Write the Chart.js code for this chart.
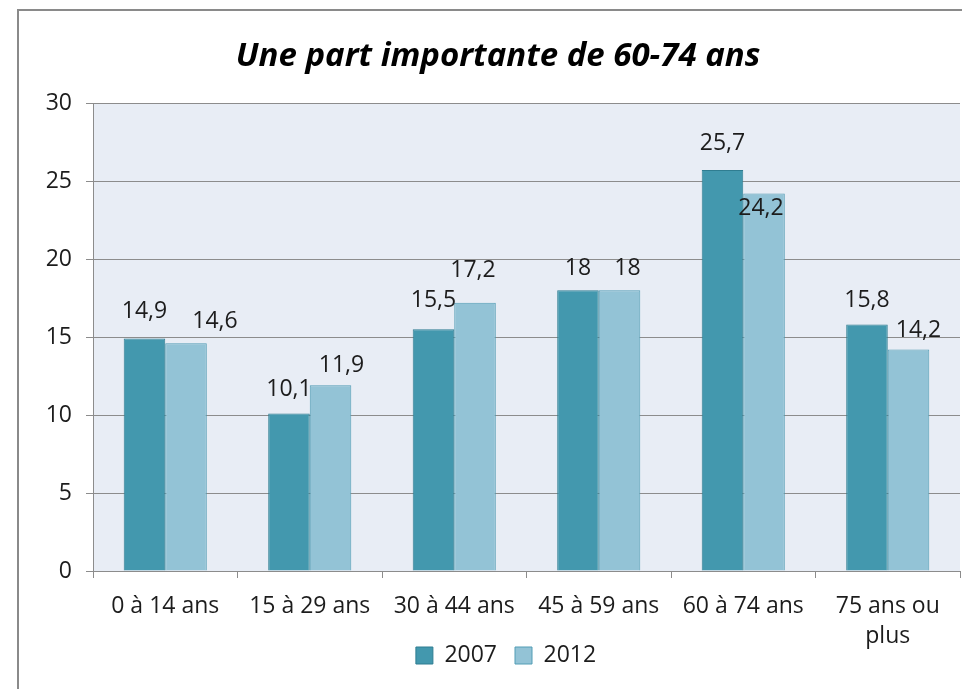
<!DOCTYPE html>
<html>
<head>
<meta charset="utf-8">
<script src="https://cdn.jsdelivr.net/npm/chart.js@4.4.1/dist/chart.umd.min.js"></script>
<style>
  html, body { margin: 0; padding: 0; background: #ffffff; overflow: hidden; }
  #wrap { position: relative; width: 962px; height: 689px; overflow: hidden; }
  #frame { position: absolute; left: 17px; top: 9px; width: 1000px; height: 740px;
           border: 2px solid #8a8a8a; box-sizing: border-box; }
  #c { position: absolute; left: 0; top: 0; }
</style>
</head>
<body>
<div id="wrap">
  <div id="frame"></div>
  <canvas id="c" width="962" height="689"></canvas>
</div>
<script>
// ---- data ----
const categories = ['0 à 14 ans', '15 à 29 ans', '30 à 44 ans', '45 à 59 ans', '60 à 74 ans', ['75 ans ou', 'plus']];
const seriesNames = ['2007', '2012'];
const values2007 = [14.9, 10.1, 15.5, 18, 25.7, 15.8];
const values2012 = [14.6, 11.9, 17.2, 18, 24.2, 14.2];
const yMin = 0, yMax = 30, yStep = 5;
const titleText = 'Une part importante de 60-74 ans';

// ---- styling ----
const FONT = "'Open Sans', 'DejaVu Sans', sans-serif";
const TEXT = '#1c1c1c';
const GRID = '#8c8c8c';

// label placement tweaks (pixels) per dataset / category, mimicking the original layout
const labelNudge = [
  [[0, -27], [0, -24], [0, -29], [0, -22], [0, -27], [0, -24]],
  [[29, -22], [11, -20], [-2, -32], [8, -22], [-3, 15], [10, -19]]
];

const plotBg = {
  id: 'plotBg',
  beforeDraw(chart) {
    const { ctx, chartArea: a } = chart;
    ctx.save();
    ctx.fillStyle = '#e8edf5';
    ctx.fillRect(a.left, a.top, a.right - a.left, a.bottom - a.top);
    ctx.restore();
  }
};

// let the two-line category label spill below the axis box, and centre the legend like the original
const layoutTweak = {
  id: 'layoutTweak',
  afterLayout(chart) {
    const xs = chart.scales.x;
    xs.bottom = chart.height;
    const lg = chart.legend;
    lg.left += 8; lg.right += 8;
  }
};

const dataLabels = {
  id: 'dataLabels',
  afterDatasetsDraw(chart) {
    const { ctx } = chart;
    ctx.save();
    ctx.font = '23px ' + FONT;
    ctx.fillStyle = TEXT;
    ctx.textAlign = 'center';
    ctx.textBaseline = 'middle';
    chart.data.datasets.forEach((ds, di) => {
      const meta = chart.getDatasetMeta(di);
      meta.data.forEach((bar, i) => {
        const v = ds.data[i];
        const txt = String(v).replace('.', ',');
        const n = labelNudge[di][i];
        ctx.fillText(txt, bar.x + n[0], bar.y + n[1]);
      });
    });
    ctx.restore();
  }
};

new Chart(document.getElementById('c'), {
  type: 'bar',
  data: {
    labels: categories,
    datasets: [
      { label: seriesNames[0], data: values2007, backgroundColor: '#4398ae', borderColor: '#2f7d91', borderWidth: 1 },
      { label: seriesNames[1], data: values2012, backgroundColor: '#93c3d6', borderColor: '#529db5', borderWidth: 1 }
    ]
  },
  options: {
    responsive: false,
    animation: false,
    events: [],
    layout: { padding: { left: 36, right: 2, top: 37, bottom: 12 } },
    datasets: { bar: { barPercentage: 1.0, categoryPercentage: 0.575 } },
    plugins: {
      title: {
        display: true,
        text: titleText,
        color: '#000000',
        font: { family: FONT, size: 33, weight: 'bold', style: 'italic', lineHeight: 1.2 },
        padding: { top: 0, bottom: 26.4 }
      },
      legend: {
        display: true,
        position: 'bottom',
        labels: {
          color: TEXT,
          font: { family: FONT, size: 23 },
          boxWidth: 17,
          boxHeight: 17,
          padding: 18
        }
      },
      tooltip: { enabled: false }
    },
    scales: {
      x: {
        grid: { display: true, drawOnChartArea: false, drawTicks: true, tickLength: 7, color: GRID, offset: true },
        border: { display: true, color: GRID, width: 1 },
        ticks: { color: TEXT, font: { family: FONT, size: 23, lineHeight: 1.3 }, padding: 14, maxRotation: 0, autoSkip: false },
        afterFit(scale) { scale.height = 55; }
      },
      y: {
        min: yMin, max: yMax,
        grid: { color: GRID, lineWidth: 1, tickLength: 7 },
        border: { display: true, color: GRID, width: 1 },
        ticks: { stepSize: yStep, color: TEXT, font: { family: FONT, size: 23 }, padding: 14 },
        afterFit(scale) { scale.width = 57; }
      }
    }
  },
  plugins: [plotBg, layoutTweak, dataLabels]
});
</script>
</body>
</html>
